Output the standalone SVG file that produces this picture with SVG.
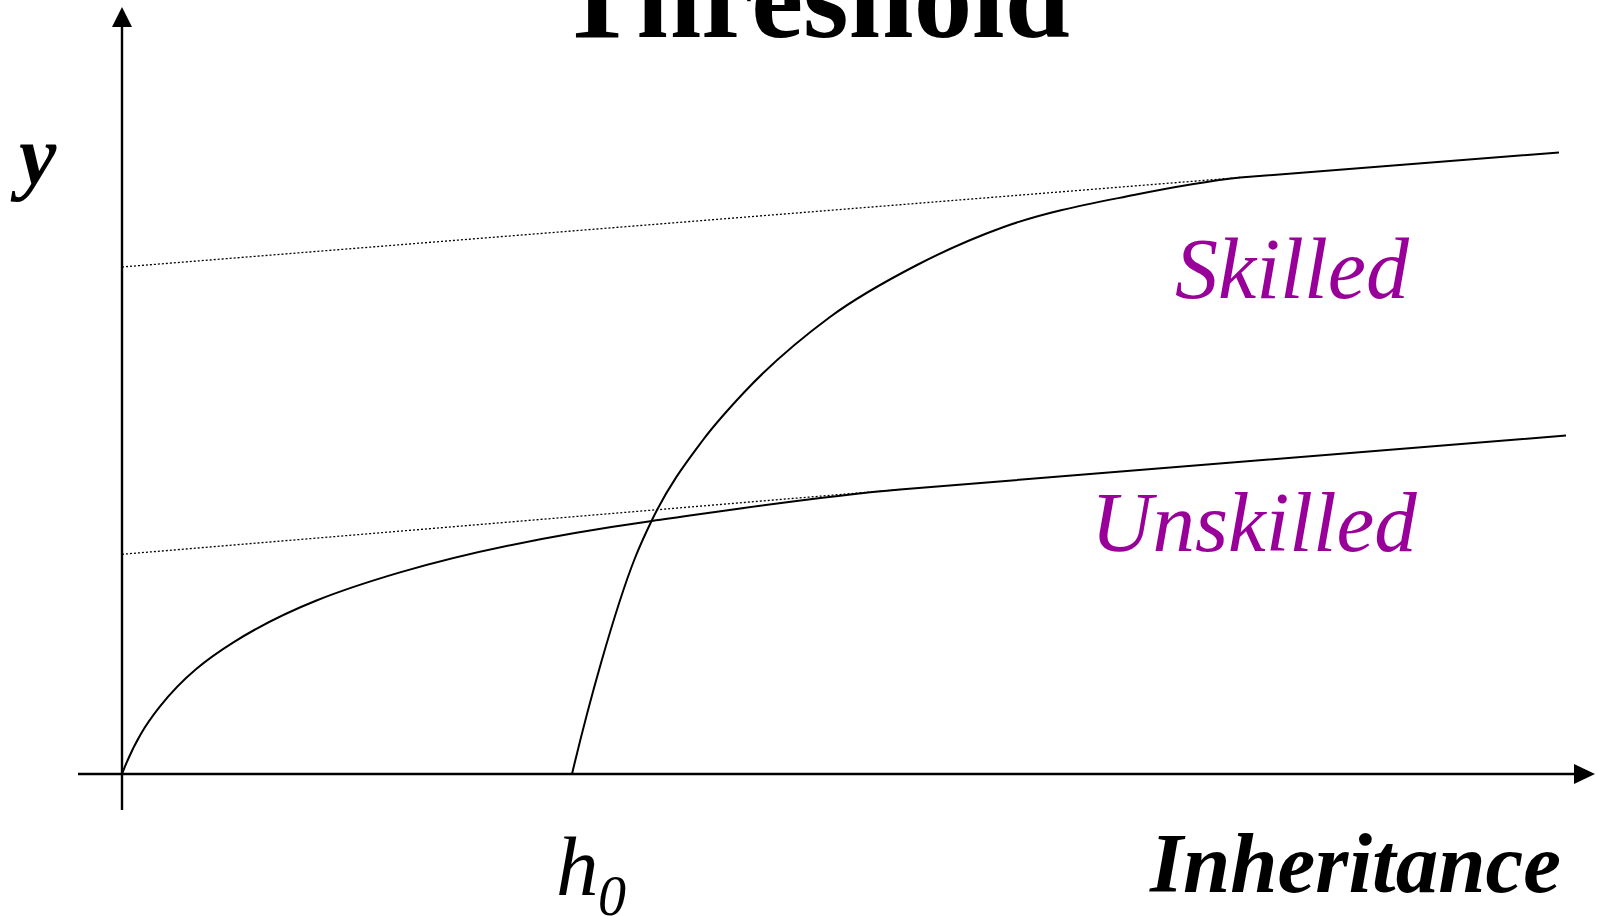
<svg xmlns="http://www.w3.org/2000/svg" width="1599" height="916" viewBox="0 0 1599 916">
<style>
.ax{stroke:#000;stroke-width:2.4;fill:none}
.cv{stroke:#000;stroke-width:2;fill:none;stroke-linejoin:round}
.dt{stroke:#000;stroke-width:1.3;fill:none;stroke-dasharray:2 2}
.ttl{font-family:"Liberation Serif",serif;font-weight:bold;font-size:117px;fill:#000}
.lbl{font-family:"Liberation Serif",serif;font-style:italic;font-weight:bold;fill:#000}
.it{font-family:"Liberation Serif",serif;font-style:italic;fill:#000}
.pu{font-family:"Liberation Serif",serif;font-style:italic;fill:#990099}
</style>
<rect width="1599" height="916" fill="#fff"/>
<g id="title"><text class="ttl" x="814" y="37" text-anchor="middle">Threshold</text></g>
<g id="axes">
<line class="ax" x1="122" y1="25" x2="122" y2="810"/>
<polygon points="122,7 112,27 132,27" fill="#000"/>
<line class="ax" x1="78" y1="774" x2="1576" y2="774"/>
<polygon points="1595,774 1574,764 1574,784" fill="#000"/>
</g>
<g id="connectors">
<path class="dt" d="M122,267 L1240,177.5"/>
<path class="dt" d="M122,554.3 L900,489.5"/>
<path id="unskilled-curve" class="cv" d="M122,774 C134.7,740.7 147.3,722.4 160,706.4 C184.3,675.7 208.7,657.9 233,642.6 C288.7,607.5 344.3,588.8 400,572.4 C484,547.7 568,532.8 652,521 C734.7,509.4 817.3,496.5 900,489.5 L1566,435.5"/>
<path id="skilled-curve" class="cv" d="M572,774 C581.67,733.4 591.33,696.74 601,663 C612.33,623.45 623.67,586.56 635,558 C640.67,543.72 646.33,531.73 652,520 C669,484.81 686,462.78 703,440 C716.5,421.91 730,407.45 743.5,393 C772.33,362.15 801.17,338.34 830,317 C859,295.54 888,280.02 917,265 C945.9,250.03 974.8,237.43 1003.7,227 C1047.07,211.34 1090.43,203.72 1133.8,195 C1169.2,187.88 1204.6,181.39 1240,177.5 L1559,152.5"/>
</g>
<g id="label-y"><text class="lbl" x="19" y="184" font-size="84">y</text></g>
<g id="label-inheritance"><text class="lbl" x="1150" y="892" font-size="85">Inheritance</text></g>
<g id="label-h0"><text class="it" x="556" y="895" font-size="85">h</text><text class="it" x="598" y="915" font-size="56">0</text></g>
<g id="label-skilled"><text class="pu" x="1175" y="298" font-size="86">Skilled</text></g>
<g id="label-unskilled"><text class="pu" x="1091" y="550.7" font-size="85">Unskilled</text></g>
</svg>
